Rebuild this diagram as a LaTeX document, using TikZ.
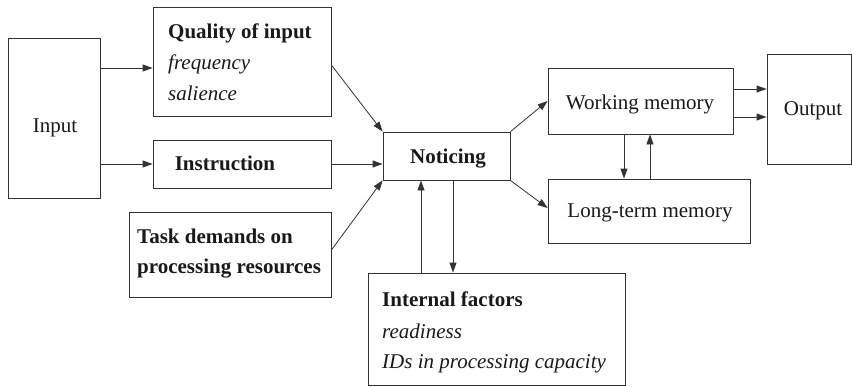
\documentclass[tikz,border=0pt]{standalone}
\usepackage{fontspec}
\setmainfont{Liberation Serif}
\usetikzlibrary{arrows.meta}
\begin{document}
\begin{tikzpicture}[x=1pt,y=-1pt,
  box/.style={draw=black!80,line width=0.8pt,rectangle,inner sep=0pt},
  txt/.style={inner sep=0pt,font=\fontsize{21}{24}\selectfont,text=black!90},
  bf/.style={font=\fontsize{21}{24}\selectfont\bfseries},
  it/.style={font=\fontsize{21}{24}\selectfont\itshape},
  arr/.style={draw=black!80,line width=0.8pt,-{Triangle[length=10pt,width=7pt]}}]
\useasboundingbox (0,0) rectangle (852,386);
% boxes
\node[box,minimum width=92pt,minimum height=160pt] (input) at (54,118) {};
\node[box,minimum width=178pt,minimum height=109pt] (qual) at (242,61.5) {};
\node[box,minimum width=178pt,minimum height=48pt] (instr) at (242,164) {};
\node[box,minimum width=202pt,minimum height=85pt] (task) at (230,254.5) {};
\node[box,minimum width=127pt,minimum height=48pt] (notice) at (446.5,156) {};
\node[box,minimum width=257pt,minimum height=112pt] (intern) at (496.5,329) {};
\node[box,minimum width=185pt,minimum height=66pt] (wm) at (640.5,101) {};
\node[box,minimum width=202pt,minimum height=64pt] (ltm) at (649,211) {};
\node[box,minimum width=84pt,minimum height=110pt] (output) at (809,109) {};
% texts
\node[txt,anchor=base] (tinput) at (55,132) {Input};
\node[txt,bf,anchor=base west] (tq1) at (168,38) {Quality of input};
\node[txt,it,anchor=base west] (tq2) at (168,69) {frequency};
\node[txt,it,anchor=base west] (tq3) at (168,100) {salience};
\node[txt,bf,anchor=base] (tinstr) at (225,170) {Instruction};
\node[txt,bf,anchor=base west] (tt1) at (137,243) {Task demands on};
\node[txt,bf,anchor=base west] (tt2) at (137,273) {processing resources};
\node[txt,bf,anchor=base] (tnotice) at (448,163) {Noticing};
\node[txt,bf,anchor=base west] (ti1) at (382,306) {Internal factors};
\node[txt,it,anchor=base west] (ti2) at (382,338) {readiness};
\node[txt,it,anchor=base west] (ti3) at (382,368) {IDs in processing capacity};
\node[txt,anchor=base] (twm) at (640,109) {Working memory};
\node[txt,anchor=base] (tltm) at (650,217) {Long-term memory};
\node[txt,anchor=base] (tout) at (813,115) {Output};
% connectors
\draw[arr] (input.east |- 0,68) -- (qual.west |- 0,68);
\draw[arr] (input.east |- 0,164) -- (instr.west);
\draw[arr] (qual.east |- 0,65) -- (notice.north west);
\draw[arr] (instr.east) -- (notice.west |- instr.east);
\draw[arr] (task.east |- 0,250) -- (notice.south west);
\draw[arr] (intern.north -| 421,0) -- (notice.south -| 421,0);
\draw[arr] (notice.south -| 453,0) -- (intern.north -| 453,0);
\draw[arr] (notice.north east) -- (wm.west |- 0,101);
\draw[arr] (notice.south east) -- (ltm.west |- 0,208);
\draw[arr] (wm.south -| 624,0) -- (ltm.north -| 624,0);
\draw[arr] (ltm.north -| 650,0) -- (wm.south -| 650,0);
\draw[arr] (wm.east |- 0,89) -- (output.west |- 0,89);
\draw[arr] (wm.east |- 0,117) -- (output.west |- 0,117);
\end{tikzpicture}
\end{document}
